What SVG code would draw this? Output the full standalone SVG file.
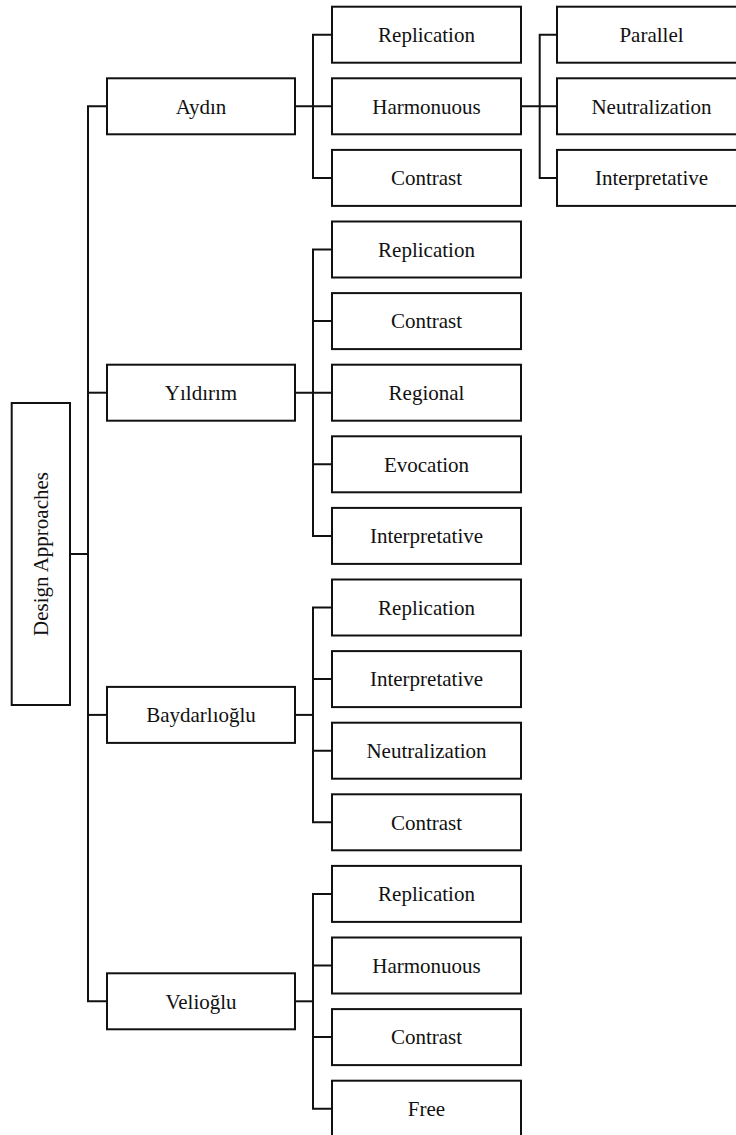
<svg xmlns="http://www.w3.org/2000/svg" width="736" height="1135" viewBox="0 0 736 1135">
<style>
rect.b{fill:#fff;stroke:#111;stroke-width:2}
text{font-family:"Liberation Serif","Times New Roman",serif;font-size:21px;fill:#111;text-anchor:middle}
#connectors path{fill:none;stroke:#111;stroke-width:2;stroke-linejoin:miter}
</style>
<rect width="736" height="1135" fill="#fff"/>
<g id="connectors">
<path d="M70,554 H88"/>
<path d="M107,106.3 H88 V1001.3 H107"/>
<path d="M88,392.7 H107"/>
<path d="M88,714.9 H107"/>
<path d="M295,106.3 H332"/>
<path d="M332,34.7 H313 V177.9 H332"/>
<path d="M521,106.3 H557"/>
<path d="M557,34.7 H539.7 V177.9 H557"/>
<path d="M295,392.7 H332"/>
<path d="M332,249.5 H313 V535.9 H332"/>
<path d="M313,321.1 H332 M313,464.3 H332"/>
<path d="M295,714.9 H313"/>
<path d="M332,607.5 H313 V822.3 H332"/>
<path d="M313,679.1 H332 M313,750.7 H332"/>
<path d="M295,1001.3 H313"/>
<path d="M332,893.9 H313 V1108.7 H332"/>
<path d="M313,965.5 H332 M313,1037.1 H332"/>
</g>
<g id="root"><rect class="b" x="11.7" y="403" width="58.3" height="302"/><text transform="translate(48,554) rotate(-90)">Design Approaches</text></g>
<g id="aydin"><rect class="b" x="107" y="78.3" width="188" height="56"/><text x="201" y="113.5">Aydın</text></g>
<g id="yildirim"><rect class="b" x="107" y="364.7" width="188" height="56"/><text x="201" y="399.9">Yıldırım</text></g>
<g id="baydarlioglu"><rect class="b" x="107" y="686.9" width="188" height="56"/><text x="201" y="722.1">Baydarlıoğlu</text></g>
<g id="velioglu"><rect class="b" x="107" y="973.3" width="188" height="56"/><text x="201" y="1008.5">Velioğlu</text></g>
<g id="a-replication"><rect class="b" x="332" y="6.7" width="189" height="56"/><text x="426.5" y="41.9">Replication</text></g>
<g id="a-harmonuous"><rect class="b" x="332" y="78.3" width="189" height="56"/><text x="426.5" y="113.5">Harmonuous</text></g>
<g id="a-contrast"><rect class="b" x="332" y="149.9" width="189" height="56"/><text x="426.5" y="185.1">Contrast</text></g>
<g id="h-parallel"><rect class="b" x="557" y="6.7" width="189" height="56"/><text x="651.5" y="41.9">Parallel</text></g>
<g id="h-neutralization"><rect class="b" x="557" y="78.3" width="189" height="56"/><text x="651.5" y="113.5">Neutralization</text></g>
<g id="h-interpretative"><rect class="b" x="557" y="149.9" width="189" height="56"/><text x="651.5" y="185.1">Interpretative</text></g>
<g id="y-replication"><rect class="b" x="332" y="221.5" width="189" height="56"/><text x="426.5" y="256.7">Replication</text></g>
<g id="y-contrast"><rect class="b" x="332" y="293.1" width="189" height="56"/><text x="426.5" y="328.3">Contrast</text></g>
<g id="y-regional"><rect class="b" x="332" y="364.7" width="189" height="56"/><text x="426.5" y="399.9">Regional</text></g>
<g id="y-evocation"><rect class="b" x="332" y="436.3" width="189" height="56"/><text x="426.5" y="471.5">Evocation</text></g>
<g id="y-interpretative"><rect class="b" x="332" y="507.9" width="189" height="56"/><text x="426.5" y="543.1">Interpretative</text></g>
<g id="b-replication"><rect class="b" x="332" y="579.5" width="189" height="56"/><text x="426.5" y="614.7">Replication</text></g>
<g id="b-interpretative"><rect class="b" x="332" y="651.1" width="189" height="56"/><text x="426.5" y="686.3">Interpretative</text></g>
<g id="b-neutralization"><rect class="b" x="332" y="722.7" width="189" height="56"/><text x="426.5" y="757.9">Neutralization</text></g>
<g id="b-contrast"><rect class="b" x="332" y="794.3" width="189" height="56"/><text x="426.5" y="829.5">Contrast</text></g>
<g id="v-replication"><rect class="b" x="332" y="865.9" width="189" height="56"/><text x="426.5" y="901.1">Replication</text></g>
<g id="v-harmonuous"><rect class="b" x="332" y="937.5" width="189" height="56"/><text x="426.5" y="972.7">Harmonuous</text></g>
<g id="v-contrast"><rect class="b" x="332" y="1009.1" width="189" height="56"/><text x="426.5" y="1044.3">Contrast</text></g>
<g id="v-free"><rect class="b" x="332" y="1080.7" width="189" height="56"/><text x="426.5" y="1115.9">Free</text></g>
</svg>
